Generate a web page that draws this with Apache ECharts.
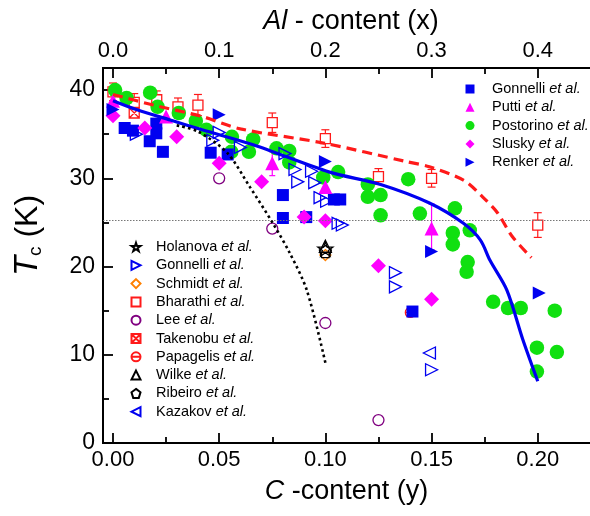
<!DOCTYPE html>
<html><head><meta charset="utf-8">
<script src="https://cdn.jsdelivr.net/npm/echarts@6/dist/echarts.min.js"></script>
<style>html,body{margin:0;padding:0;background:#fff}#c{width:590px;height:516px}</style>
</head><body><div id="c"></div><script>
// ---- tick values ----
const xTicksC = [0, 0.05, 0.10, 0.15, 0.20];
const xMinorC = [0.025, 0.075, 0.125, 0.175];
const xTicksAl = [0, 0.1, 0.2, 0.3, 0.4];
const xMinorAl = [0.05, 0.15, 0.25, 0.35];
const yTicks = [0, 10, 20, 30, 40];
const yMinor = [5, 15, 25, 35];
const TC_REF = 25.3;

// ---- data: [C-content y, Tc (K)] ----
const gonnelliFilled = [[0.0055,35.7],[0.0094,35.4],[0.0173,34.2],[0.0204,36.2],[0.0204,35.1],[0.0235,33.0],[0.046,32.9],[0.054,32.7],[0.080,28.1],[0.080,25.5],[0.091,25.6],[0.104,27.6],[0.107,27.6],[0.141,14.9]];
const putti = [[0.0,38.8],[0.025,37.0],[0.075,31.7],[0.100,29.0],[0.150,24.3]];
const puttiErr = [[0.075,30.3,33.0],[0.150,21.9,27.1]];
const postorino = [[0.001,40.0],[0.0064,39.1],[0.0175,39.7],[0.021,38.1],[0.031,37.4],[0.039,36.5],[0.044,35.5],[0.056,34.7],[0.0557,33.0],[0.064,33.0],[0.066,34.4],[0.077,33.4],[0.083,33.1],[0.083,31.8],[0.099,30.1],[0.106,30.7],[0.120,29.3],[0.120,27.9],[0.126,28.1],[0.126,25.8],[0.139,29.9],[0.1445,26.0],[0.161,26.6],[0.160,23.8],[0.160,22.5],[0.168,24.1],[0.167,20.5],[0.1665,19.4],[0.179,16.0],[0.186,15.3],[0.192,15.3],[0.208,15.0],[0.1996,10.8],[0.209,10.3],[0.1996,8.1]];
const slusky = [[0.0,37.1],[0.015,35.7],[0.030,34.7],[0.050,31.7],[0.070,29.6],[0.090,25.6],[0.100,25.2],[0.125,20.1],[0.150,16.3]];
const renker = [[0.0,37.8],[0.050,37.2],[0.100,31.9],[0.150,21.7],[0.2007,17.0]];
const holanova = [[0.100,22.0]];
const gonnelliHollow = [[0.011,35.0],[0.047,34.3],[0.050,35.2],[0.060,33.5],[0.081,32.8],[0.0857,31.0],[0.087,29.6],[0.0935,30.8],[0.095,29.5],[0.0975,27.8],[0.1006,27.4],[0.106,24.9],[0.108,24.7],[0.133,19.3],[0.133,17.7],[0.150,8.3]];
const schmidt = [[0.100,21.3]];
const bharathi = [[0.0,39.8],[0.01,38.6],[0.0206,38.9],[0.0306,38.1],[0.040,38.3],[0.075,36.3],[0.100,34.5],[0.125,30.2],[0.150,30.0],[0.200,24.7]];
const bharathiErr = [1.0,1.0,1.0,1.0,1.2,1.1,1.0,0.9,1.0,1.4];
const lee = [[0.050,30.0],[0.075,24.3],[0.100,13.6],[0.125,2.6]];
const takenobu = [[0.010,37.4]];
const papagelis = [[0.140,14.8]];
const wilke = [[0.100,22.3]];
const ribeiro = [[0.100,21.7]];
const kazakov = [[0.149,10.2]];

// ---- curves ----
const blueCurve = [[0.0,38.8],[0.011,37.8],[0.027,36.6],[0.042,35.5],[0.066,33.8],[0.102,30.7],[0.126,29.3],[0.149,27.2],[0.165,24.9],[0.173,23.0],[0.1775,20.7],[0.1855,17.3],[0.193,11.7],[0.200,7.0]];
const redCurve = [[0.0,39.5],[0.019,38.3],[0.042,37.0],[0.060,35.6],[0.099,34.0],[0.138,31.9],[0.149,31.3],[0.165,29.8],[0.174,27.9],[0.181,26.1],[0.188,23.4],[0.197,21.0]];
const blackCurve = [[0.030,36.0],[0.040,35.3],[0.0537,32.9],[0.0645,29.0],[0.0753,24.9],[0.0833,21.5],[0.0913,17.3],[0.100,9.1]];

const FONT = "'Liberation Sans', Arial, Helvetica, sans-serif";
const X_MIN = -0.0047, X_MAX = 0.2246, Y_MIN = 0, Y_MAX = 42.5;

const BLUE = '#0000f0', MAG = '#ff00ff', GREEN = '#10e010', RED = '#ff1a1a', PURPLE = '#800080', ORANGE = '#ff8000';
const TRANS = 'rgba(0,0,0,0)';
const P_RIGHT = 'path://M0,0 L10,5 L0,10 Z';
const P_LEFT = 'path://M10,0 L0,5 L10,10 Z';
const P_STAR = 'path://M5,0 L6.2,3.6 L10,3.6 L7,5.9 L8.1,9.5 L5,7.3 L1.9,9.5 L3,5.9 L0,3.6 L3.8,3.6 Z';
const P_PENT = 'path://M5,0 L10,3.8 L8.1,10 L1.9,10 L0,3.8 Z';
const P_XBOX = 'path://M0,0 L10,0 L10,10 L0,10 Z M0,0 L10,10 M10,0 L0,10';
const P_OBAR = 'path://M0,5 A5,5 0 1 1 10,5 A5,5 0 1 1 0,5 Z M0,5 L10,5';

function sc(name, data, symbol, size, fill, stroke, bw, z) {
  return {type:'scatter', name, data, symbol, symbolSize:size, symbolKeepAspect:true, silent:true, z: z||2,
    itemStyle:{color:fill, borderColor:stroke, borderWidth:bw, opacity:1}, emphasis:{disabled:true}};
}
function errSeries(name, data, color, cap, z) {
  return {type:'custom', name, silent:true, z: z||2, data, encode:{x:0, y:[1,2]},
    renderItem:(params, api) => {
      const x = api.value(0), lo = api.value(1), hi = api.value(2);
      const a = api.coord([x, lo]), b = api.coord([x, hi]);
      const ch = [{type:'line', shape:{x1:a[0],y1:a[1],x2:b[0],y2:b[1]}, style:{stroke:color, lineWidth:1.2}}];
      if (cap > 0) {
        ch.push({type:'line', shape:{x1:a[0]-cap,y1:a[1],x2:a[0]+cap,y2:a[1]}, style:{stroke:color, lineWidth:1.2}});
        ch.push({type:'line', shape:{x1:b[0]-cap,y1:b[1],x2:b[0]+cap,y2:b[1]}, style:{stroke:color, lineWidth:1.2}});
      }
      return {type:'group', children:ch};
    }};
}

const labelStyle = {color:'#000', fontFamily:FONT, fontSize:22};
function axisX(pos, min, max, ticks, len, labels, fmt, extra) {
  return Object.assign({type:'value', position:pos, min, max, splitLine:{show:false},
    axisLine:{show:true, onZero:false, lineStyle:{color:'#000', width:2}},
    axisTick:{show:true, inside:true, length:len, customValues:ticks, lineStyle:{color:'#000', width:1.8}},
    axisLabel: labels ? Object.assign({show:true, customValues:ticks, formatter:fmt, margin:6}, labelStyle) : {show:false},
    minorTick:{show:false}}, extra||{});
}
function axisY(ticks, len, labels, extra) {
  return Object.assign({type:'value', position:'left', min:Y_MIN, max:Y_MAX, splitLine:{show:false},
    axisLine:{show:true, onZero:false, lineStyle:{color:'#000', width:2}},
    axisTick:{show:true, inside:true, length:len, customValues:ticks, lineStyle:{color:'#000', width:1.8}},
    axisLabel: labels ? Object.assign({show:true, customValues:ticks, margin:8}, labelStyle, {fontSize:23}) : {show:false},
    minorTick:{show:false}}, extra||{});
}
const nameStyle = {color:'#000', fontFamily:FONT, fontSize:27,
  rich:{i:{fontStyle:'italic', fontSize:27, fontFamily:FONT, color:'#000'}}};

function legendText(sp) {
  return {color:'#000', fontFamily:FONT, fontSize:14.5, lineHeight:18,
    rich:{sp:{width:sp, lineHeight:18, fontSize:14.5},
          n:{fontFamily:FONT, fontSize:14.5, lineHeight:18, color:'#000'},
          i:{fontFamily:FONT, fontSize:14.5, lineHeight:18, fontStyle:'italic', color:'#000'}}};
}
const legendFmt = n => '{sp| }{n|' + n.split('_')[0] + '} {i|et al.}';

const chart = echarts.init(document.getElementById('c'), null, {renderer:'canvas'});
chart.setOption({
  animation:false,
  backgroundColor:'#fff',
  grid:{left:103, right:0, top:68, bottom:73, containLabel:false},
  xAxis:[
    axisX('bottom', X_MIN, X_MAX, xTicksC, 10, true, v => v.toFixed(2),
      {name:'{i|C} -content (y)', nameLocation:'middle', nameGap:35, nameTextStyle:nameStyle}),
    axisX('top', 2*X_MIN, 2*X_MAX, xTicksAl, 10, true, v => v.toFixed(1),
      {name:'{i|Al} - content (x)', nameLocation:'middle', nameGap:31, nameTextStyle:Object.assign({padding:[0,0,0,9]}, nameStyle)}),
    axisX('bottom', X_MIN, X_MAX, xMinorC, 6, false, null),
    axisX('top', 2*X_MIN, 2*X_MAX, xMinorAl, 6, false, null)
  ],
  yAxis:[
    axisY(yTicks, 10, true, {name:'{t|T}{s|c}{n| (K)}', nameLocation:'middle', nameRotate:90, nameGap:58,
      nameTextStyle:{color:'#000', fontFamily:FONT, padding:[0,0,0,40],
        rich:{t:{fontStyle:'italic', fontSize:33, lineHeight:34, fontFamily:FONT, color:'#000'},
              s:{fontSize:19, lineHeight:4, verticalAlign:'bottom', fontFamily:FONT, color:'#000'},
              n:{fontSize:32, lineHeight:34, fontFamily:FONT, color:'#000'}}}}),
    axisY(yMinor, 6, false)
  ],
  legend:[
    {data:['Gonnelli_f','Putti','Postorino','Slusky','Renker'], orient:'vertical', left:465.5, top:80,
     itemWidth:9, itemHeight:9, itemGap:0.3, selectedMode:false, textStyle:legendText(12.5), formatter:legendFmt, padding:0},
    {data:['Holanova','Gonnelli_h','Schmidt','Bharathi','Lee','Takenobu','Papagelis','Wilke','Ribeiro','Kazakov'], orient:'vertical', left:130.5, top:238,
     itemWidth:9, itemHeight:9, itemGap:0.3, selectedMode:false, textStyle:legendText(10.5), formatter:legendFmt, padding:0}
  ],
  series:[
    errSeries('bharathiErr', bharathi.map((d,i)=>[d[0], d[1]-bharathiErr[i], d[1]+bharathiErr[i]]), RED, 4),
    sc('Bharathi', bharathi, 'rect', 10, '#fff', RED, 1.3),
    sc('Takenobu', takenobu, P_XBOX, 10, '#fff', RED, 1.3),
    sc('Papagelis', papagelis, P_OBAR, 10, TRANS, RED, 1.3),
    sc('Postorino', postorino, 'circle', 14.5, GREEN, GREEN, 0),
    sc('Gonnelli_f', gonnelliFilled, 'rect', 12, BLUE, BLUE, 0),
    errSeries('puttiErr', puttiErr, MAG, 3),
    sc('Putti', putti, 'triangle', 14, MAG, MAG, 0),
    sc('Slusky', slusky, 'diamond', 15, MAG, MAG, 0),
    sc('Renker', renker, P_RIGHT, 13, BLUE, BLUE, 0),
    sc('Gonnelli_h', gonnelliHollow, P_RIGHT, 12, TRANS, BLUE, 1.3),
    sc('Lee', lee, 'circle', 11, '#fff', PURPLE, 1.3),
    sc('Kazakov', kazakov, P_LEFT, 12, TRANS, BLUE, 1.3),
    sc('Schmidt', schmidt, 'diamond', 11, TRANS, ORANGE, 1.3),
    sc('Ribeiro', ribeiro, P_PENT, 12, TRANS, '#000', 1.3),
    sc('Wilke', wilke, 'triangle', 12, TRANS, '#000', 1.3),
    sc('Holanova', holanova, P_STAR, 15, TRANS, '#000', 1.3),
    {type:'line', name:'redFit', data:redCurve, smooth:0.3, symbol:'none', silent:true, z:5,
     lineStyle:{color:RED, width:3.2, type:[10,6]}},
    {type:'line', name:'blueFit', data:blueCurve, smooth:0.3, symbol:'none', silent:true, z:5,
     lineStyle:{color:BLUE, width:3.2}},
    {type:'line', name:'blackFit', data:blackCurve, smooth:0.3, symbol:'none', silent:true, z:5,
     lineStyle:{color:'#000', width:2.6, type:[2.6,3.2]},
     markLine:{silent:true, symbol:'none', label:{show:false}, animation:false,
       lineStyle:{color:'#777', width:1.2, type:[1.5,1.5]}, data:[{yAxis:TC_REF}]}}
  ]
});
</script></body></html>
